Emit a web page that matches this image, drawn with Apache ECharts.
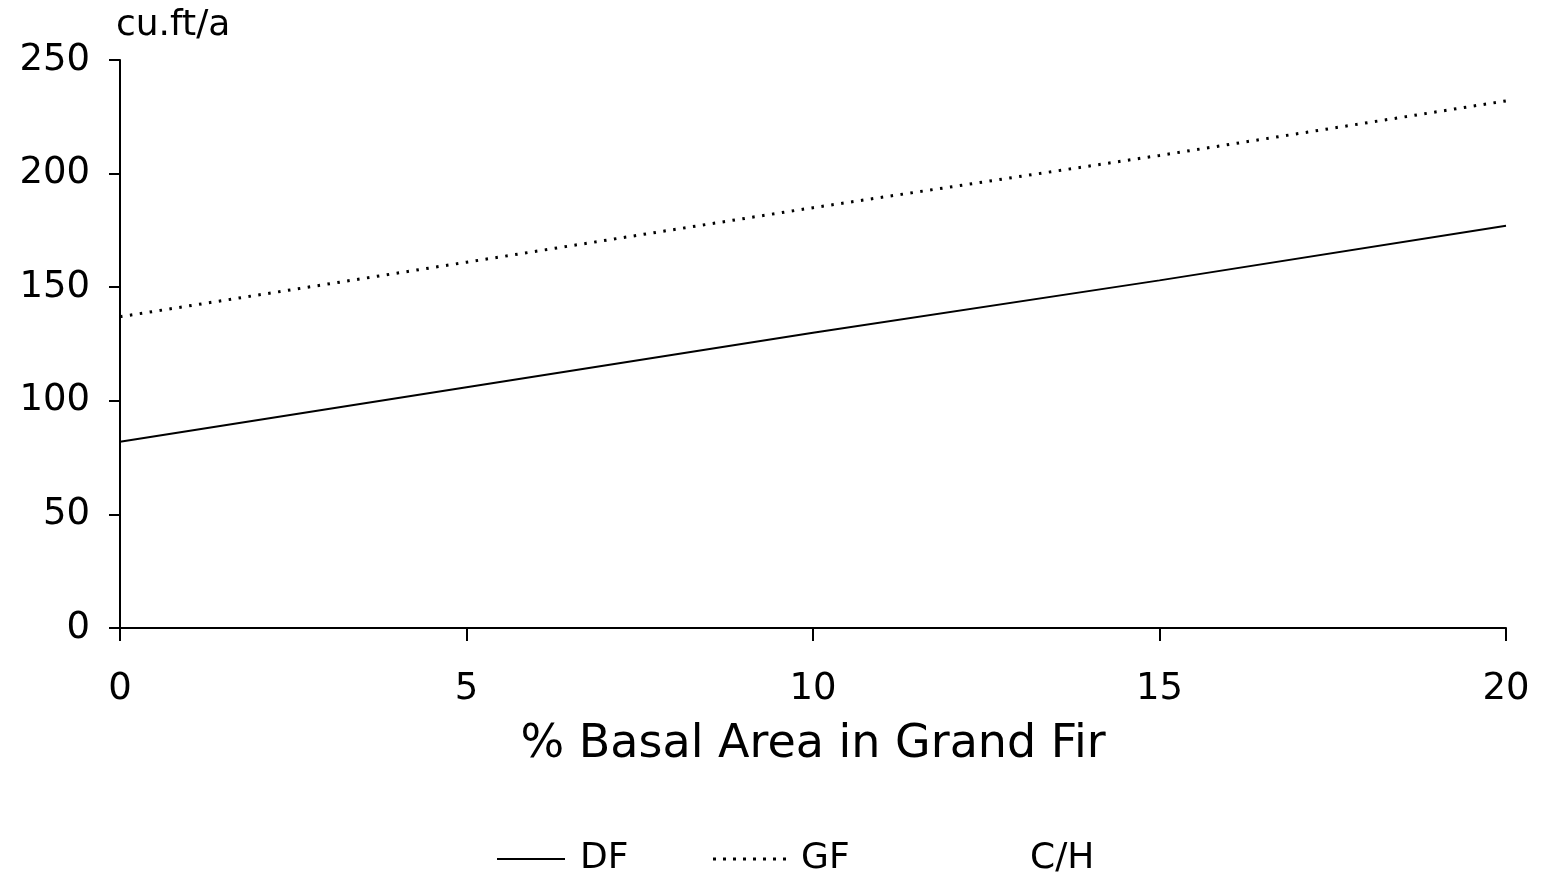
<!DOCTYPE html>
<html>
<head>
<meta charset="utf-8">
<script src="https://cdn.jsdelivr.net/npm/echarts@6/dist/echarts.min.js"></script>
<style>html,body{margin:0;padding:0;background:#fff;}#c{width:1541px;height:873px;}</style>
</head>
<body>
<div id="c"></div>
<script>
const xValues = [0, 5, 10, 15, 20];
const dfValues = [82, 106, 130, 153, 177];
const gfValues = [137, 161, 185, 208, 232];
const chValues = [0, 0, 0, 0, 0];
const seriesNames = ['DF', 'GF', 'C/H'];

const pairs = (ys) => xValues.map((x, i) => [x, ys[i]]);
const FONT = 'DejaVu Sans';

let dots = '';
for (let i = 0; i < 8; i++) { dots += 'M' + (i * 10) + ',0h3v3h-3Z'; }

const legendText = {fontFamily: FONT, fontSize: 36, color: '#000', padding: [0, 0, 0, 10]};

const chart = echarts.init(document.getElementById('c'), null, {renderer: 'canvas'});
chart.setOption({
  backgroundColor: '#fff',
  animation: false,
  grid: {left: 120, right: 35, top: 60, bottom: 245, containLabel: false},
  xAxis: {
    type: 'value', min: 0, max: 20, interval: 5,
    name: '% Basal Area in Grand Fir', nameLocation: 'middle', nameGap: 94,
    nameTextStyle: {fontFamily: FONT, fontSize: 46, color: '#000'},
    axisLine: {show: true, onZero: false, lineStyle: {color: '#000', width: 2}},
    axisTick: {show: true, length: 13, lineStyle: {color: '#000', width: 2}},
    axisLabel: {fontFamily: FONT, fontSize: 37, color: '#000', margin: 43},
    splitLine: {show: false}
  },
  yAxis: {
    type: 'value', min: 0, max: 250, interval: 50,
    name: 'cu.ft/a', nameLocation: 'end', nameGap: 16,
    nameTextStyle: {fontFamily: FONT, fontSize: 36, color: '#000', align: 'left', padding: [0, 0, 0, -4]},
    axisLine: {show: true, onZero: false, lineStyle: {color: '#000', width: 2}},
    axisTick: {show: true, length: 11, lineStyle: {color: '#000', width: 2}},
    axisLabel: {fontFamily: FONT, fontSize: 37, color: '#000', margin: 30},
    splitLine: {show: false}
  },
  legend: [
    {top: 836, left: 492, itemWidth: 68, itemHeight: 2, textStyle: legendText,
     data: [{name: seriesNames[0], icon: 'path://M0,0L68,0L68,2L0,2Z'}]},
    {top: 836, left: 708, itemWidth: 73, itemHeight: 3, textStyle: legendText,
     data: [{name: seriesNames[1], icon: 'path://' + dots}]},
    {top: 836, left: 1000, itemWidth: 10, itemHeight: 2, textStyle: legendText,
     data: [{name: seriesNames[2], icon: 'none', itemStyle: {opacity: 0}, lineStyle: {opacity: 0}}]}
  ],
  series: [
    {name: seriesNames[0], type: 'line', data: pairs(dfValues), showSymbol: false, symbol: 'none',
     lineStyle: {color: '#000', width: 2}, itemStyle: {color: '#000'}},
    {name: seriesNames[1], type: 'line', data: pairs(gfValues), showSymbol: false, symbol: 'none',
     lineStyle: {color: '#000', width: 3, type: [2.5, 7.5]}, itemStyle: {color: '#000'}},
    {name: seriesNames[2], type: 'line', data: pairs(chValues), showSymbol: false, symbol: 'none',
     lineStyle: {color: '#000', width: 2}, itemStyle: {color: '#000'}}
  ]
});
</script>
</body>
</html>
